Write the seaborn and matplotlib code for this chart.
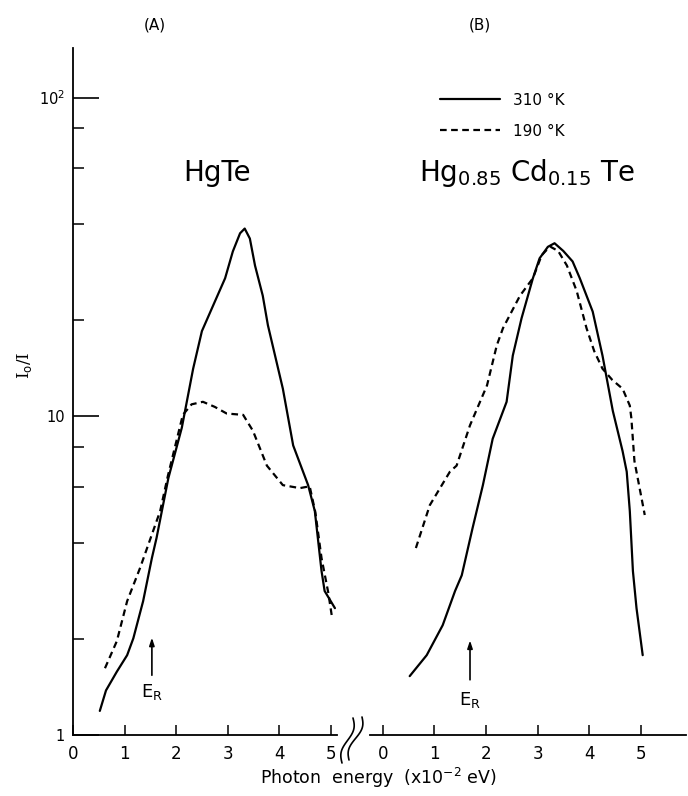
import numpy as np
import pandas as pd
import matplotlib
matplotlib.use("Agg")
import matplotlib.pyplot as plt
from matplotlib.lines import Line2D
import seaborn as sns

# ---------------- data ----------------
temps = ["310 °K", "190 °K"]

a_warm_x = [0.52, 0.64, 0.85, 1.05, 1.17, 1.36, 1.53, 1.62, 1.85, 2.11, 2.33, 2.5, 2.72,
            2.95, 3.1, 3.24, 3.33, 3.43, 3.53, 3.68, 3.78, 4.07, 4.27, 4.56, 4.69, 4.82,
            4.88, 5.08]
a_warm_y = [1.19, 1.38, 1.58, 1.78, 2.01, 2.63, 3.59, 4.15, 6.4, 9.2, 14.1, 18.5, 22.3,
            27.1, 32.9, 37.5, 38.8, 36.1, 29.7, 23.9, 19.3, 12.2, 8.1, 6.08, 5.04, 3.27,
            2.83, 2.5]

a_cold_x = [0.62, 0.85, 1.05, 1.3, 1.69, 1.84, 2.13, 2.3, 2.52, 2.75, 2.98, 3.3, 3.49,
            3.76, 4.07, 4.4, 4.59, 4.7, 4.82, 4.95, 5.02]
a_cold_y = [1.62, 1.97, 2.63, 3.34, 5.04, 6.5, 10.1, 10.9, 11.1, 10.7, 10.2, 10.1, 9.0,
            7.0, 6.08, 5.95, 6.03, 5.0, 3.59, 2.8, 2.36]

b_warm_x = [0.52, 0.85, 1.16, 1.4, 1.53, 1.74, 1.94, 2.13, 2.4, 2.52, 2.69, 2.91, 3.04,
            3.2, 3.33, 3.5, 3.68, 3.82, 4.07, 4.26, 4.46, 4.65, 4.73, 4.79, 4.85, 4.92,
            5.04]
b_warm_y = [1.53, 1.78, 2.21, 2.83, 3.17, 4.46, 6.08, 8.5, 11.1, 15.5, 20.3, 27.1, 31.3,
            34.0, 34.9, 33.0, 30.6, 27.1, 21.3, 15.5, 10.4, 7.77, 6.7, 5.04, 3.27, 2.5,
            1.78]

b_cold_x = [0.64, 0.91, 1.3, 1.43, 1.69, 2.02, 2.21, 2.33, 2.66, 2.91, 3.08, 3.24, 3.4,
            3.57, 3.76, 3.95, 4.1, 4.26, 4.45, 4.65, 4.79, 4.82, 4.88, 5.08]
b_cold_y = [3.86, 5.26, 6.7, 7.0, 9.37, 12.5, 16.7, 18.9, 23.9, 27.1, 32.0, 34.1, 33.0,
            29.7, 24.7, 18.9, 16.0, 14.1, 13.0, 12.2, 10.8, 9.86, 7.23, 4.9]

x_ticks = [0, 1, 2, 3, 4, 5]
y_major = [1, 10, 100]
y_major_labels = ["1", "10", "10$^2$"]
y_minor = [2, 4, 6, 8, 20, 40, 60, 80]

er_a = 1.53
er_b = 1.69


def frame(wx, wy, cx, cy):
    return pd.concat([
        pd.DataFrame({"energy": wx, "ratio": wy, "temp": temps[0]}),
        pd.DataFrame({"energy": cx, "ratio": cy, "temp": temps[1]}),
    ], ignore_index=True)


dfA = frame(a_warm_x, a_warm_y, a_cold_x, a_cold_y)
dfB = frame(b_warm_x, b_warm_y, b_cold_x, b_cold_y)

# ---------------- figure ----------------
sns.set_style("ticks")
plt.rcParams["font.family"] = ["DejaVu Sans"]
for key in ("text.color", "axes.labelcolor", "xtick.color", "ytick.color",
            "axes.edgecolor"):
    plt.rcParams[key] = "black"

W, H = 688, 796
fig = plt.figure(figsize=(W / 100, H / 100), dpi=100)
axA = fig.add_axes([73 / W, 1 - 735 / H, (337 - 73) / W, (735 - 48) / H])
axB = fig.add_axes([370 / W, 1 - 735 / H, (686 - 370) / W, (735 - 48) / H], sharey=axA)

dashes = {temps[0]: "", temps[1]: (3, 2)}
for ax, df in ((axA, dfA), (axB, dfB)):
    sns.lineplot(data=df, x="energy", y="ratio", style="temp", style_order=temps,
                 dashes=dashes, color="black", lw=1.6, sort=False, estimator=None,
                 ax=ax, legend=(ax is axB))

axA.set_yscale("log")
axA.set_ylim(1, 143)
axA.set_xlim(0, 5.12)
axB.set_xlim(-0.25, 5.88)

for ax in (axA, axB):
    ax.set_xlabel("")
    ax.set_ylabel("")
    ax.set_xticks(x_ticks)
    ax.set_xticklabels([str(t) for t in x_ticks], fontsize=12)
    ax.tick_params(axis="x", bottom=True, direction="in", length=7, width=1.1, pad=7,
                   color="black")
    for s in ("top", "right"):
        ax.spines[s].set_visible(False)
    ax.spines["bottom"].set_linewidth(1.3)
    ax.spines["bottom"].set_color("black")

axA.spines["left"].set_linewidth(1.3)
axA.spines["left"].set_color("black")
axA.set_yticks(y_major)
axA.set_yticklabels(y_major_labels, fontsize=10.5)
axA.set_yticks(y_minor, minor=True)
axA.yaxis.set_minor_formatter(matplotlib.ticker.NullFormatter())
axA.tick_params(axis="y", which="major", left=True, direction="in", length=19, width=1.2,
                pad=6)
axA.tick_params(axis="y", which="minor", left=True, direction="in", length=8, width=1.1)

axB.spines["left"].set_visible(False)
axB.tick_params(axis="y", which="both", left=False, labelleft=False)

# legend
handles, labels = axB.get_legend_handles_labels()
axB.legend(handles, labels, loc="upper left", bbox_to_anchor=(0.222, 0.935),
           frameon=False, fontsize=11, handlelength=3.9, handletextpad=0.85,
           labelspacing=1.05, borderpad=0, borderaxespad=0)

# panel titles and compound names
fig.text(155 / W, 1 - 25 / H, "(A)", ha="center", va="center", fontsize=11)
fig.text(480 / W, 1 - 25 / H, "(B)", ha="center", va="center", fontsize=11)
axA.text(2.79, 58, "HgTe", ha="center", va="center", fontsize=20)
axB.text(2.79, 58, "Hg$_{0.85}$ Cd$_{0.15}$ Te", ha="center", va="center", fontsize=20)

# E_R arrows
for ax, ex, y0, y1, yl in ((axA, er_a, 1.54, 2.02, 1.36), (axB, er_b, 1.49, 1.98, 1.29)):
    ax.annotate("", xy=(ex, y1), xytext=(ex, y0),
                arrowprops=dict(arrowstyle="-|>,head_length=0.45,head_width=0.15",
                                color="black", lw=1.2, shrinkA=0, shrinkB=0))
    ax.text(ex, yl, "E$_{\\mathrm{R}}$", ha="center", va="center", fontsize=13)

# axis labels
fig.text(25 / W, 1 - 365 / H, "I$_{\\mathrm{o}}$/I", rotation=90, ha="center",
         va="center", fontsize=12, family="DejaVu Serif")
fig.text(378 / W, 1 - 778 / H, "Photon  energy  (x10$^{-2}$ eV)", ha="center",
         va="center", fontsize=12.5)

# axis break marks
t = np.linspace(0, 1, 40)
for (x0, y0p, x1, y1p) in ((353, 718, 342, 763), (362, 717, 349, 760)):
    xs = x0 + (x1 - x0) * t + 3.5 * np.sin(2 * np.pi * t)
    ys = y0p + (y1p - y0p) * t
    fig.add_artist(Line2D(xs / W, 1 - ys / H, color="black", lw=1.2))

fig.savefig("out.png", dpi=100, facecolor="white")
